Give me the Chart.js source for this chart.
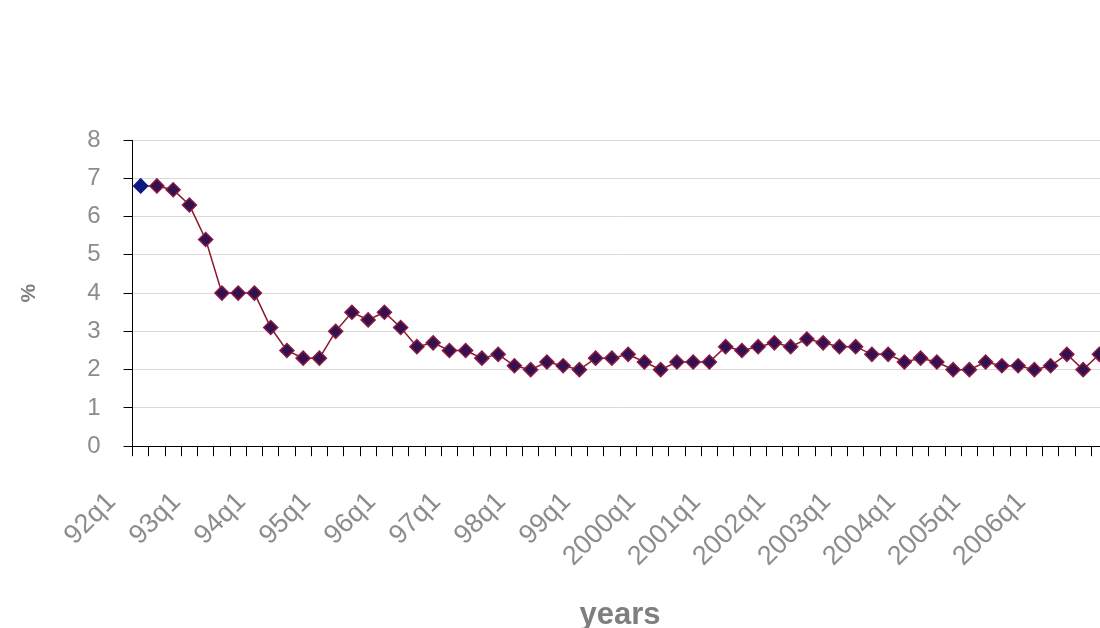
<!DOCTYPE html>
<html>
<head>
<meta charset="utf-8">
<script src="https://cdn.jsdelivr.net/npm/chart.js@4/dist/chart.umd.min.js"></script>
<style>
  html, body { margin: 0; padding: 0; background: #fff; overflow: hidden; }
  #wrap { width: 1100px; height: 628px; overflow: hidden; }
</style>
</head>
<body>
<div id="wrap"><canvas id="grafico" width="1116" height="628"></canvas></div>
<script>
// trimestres (eixo x)
const trimestres = [
  "92q1", "92q2", "92q3", "92q4", "93q1", "93q2", "93q3", "93q4",
  "94q1", "94q2", "94q3", "94q4", "95q1", "95q2", "95q3", "95q4",
  "96q1", "96q2", "96q3", "96q4", "97q1", "97q2", "97q3", "97q4",
  "98q1", "98q2", "98q3", "98q4", "99q1", "99q2", "99q3", "99q4",
  "2000q1", "2000q2", "2000q3", "2000q4", "2001q1", "2001q2", "2001q3", "2001q4",
  "2002q1", "2002q2", "2002q3", "2002q4", "2003q1", "2003q2", "2003q3", "2003q4",
  "2004q1", "2004q2", "2004q3", "2004q4", "2005q1", "2005q2", "2005q3", "2005q4",
  "2006q1", "2006q2", "2006q3", "2006q4"
];

// valores em %
const valores = [
  6.8, 6.8, 6.7, 6.3, 5.4, 4.0, 4.0, 4.0,
  3.1, 2.5, 2.3, 2.3, 3.0, 3.5, 3.3, 3.5,
  3.1, 2.6, 2.7, 2.5, 2.5, 2.3, 2.4, 2.1,
  2.0, 2.2, 2.1, 2.0, 2.3, 2.3, 2.4, 2.2,
  2.0, 2.2, 2.2, 2.2, 2.6, 2.5, 2.6, 2.7,
  2.6, 2.8, 2.7, 2.6, 2.6, 2.4, 2.4, 2.2,
  2.3, 2.2, 2.0, 2.0, 2.2, 2.1, 2.1, 2.0,
  2.1, 2.4, 2.0, 2.4
];

// marcas do eixo y
const marcasY = [0, 1, 2, 3, 4, 5, 6, 7, 8];

const fonte = 'Arial, "Liberation Sans", sans-serif';
const cinza = "#8c8c8c";

new Chart(document.getElementById("grafico"), {
  type: "line",
  data: {
    labels: trimestres,
    datasets: [{
      data: valores,
      borderColor: "#8b1a2e",
      borderWidth: 1.5,
      tension: 0,
      pointStyle: "rectRot",
      pointRadius: 7,
      pointBorderWidth: 1.5,
      pointBackgroundColor: ctx => ctx.dataIndex === 0 ? "#0c1a82" : "#331050",
      pointBorderColor: ctx => ctx.dataIndex === 0 ? "#0c1a82" : "#8b1a40"
    }]
  },
  options: {
    responsive: false,
    animation: false,
    layout: { padding: { left: 14, top: 140, right: 0, bottom: 0 } },
    plugins: { legend: { display: false }, tooltip: { enabled: false } },
    scales: {
      x: {
        offset: true,
        // sem folga extra para os rótulos inclinados
        afterFit: axis => { axis.paddingLeft = 0; axis.paddingRight = 0; },
        border: { display: true, color: "#000", width: 1 },
        grid: { offset: true, drawOnChartArea: false, drawTicks: true, tickLength: 10, tickColor: "#000" },
        ticks: {
          autoSkip: false,
          minRotation: 45,
          maxRotation: 45,
          padding: 30,
          labelOffset: -29,
          color: cinza,
          font: { family: fonte, size: 27 },
          callback: (v, i) => i % 4 === 0 ? trimestres[i] : ""
        },
        title: {
          display: true,
          text: "years",
          color: "#7f7f7f",
          font: { family: fonte, size: 31, weight: "bold" },
          padding: { top: -6, bottom: -6 }
        }
      },
      y: {
        min: 0,
        max: 8,
        afterBuildTicks: axis => { axis.ticks = marcasY.map(v => ({ value: v })); },
        border: { display: true, color: "#000", width: 1 },
        grid: { color: "#d9d9d9", lineWidth: 1, tickLength: 9, tickColor: "#000" },
        ticks: {
          padding: 23,
          color: cinza,
          font: { family: fonte, size: 24 }
        },
        title: {
          display: true,
          text: "%",
          color: "#7f7f7f",
          font: { family: fonte, size: 21, weight: "bold" },
          padding: { top: 3, bottom: 22 }
        }
      }
    }
  }
});
</script>
</body>
</html>
